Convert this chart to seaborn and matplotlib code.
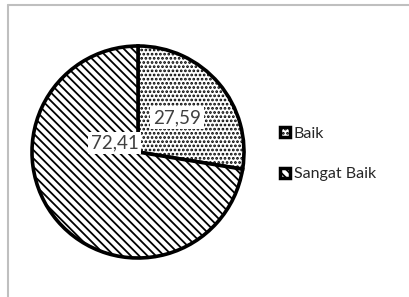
import matplotlib
matplotlib.use("Agg")
import matplotlib.pyplot as plt
import seaborn as sns
from matplotlib.lines import Line2D

sns.set_style("white")
plt.rcParams['font.family'] = ['Lato', 'DejaVu Sans']
plt.rcParams['hatch.linewidth'] = 1.3

categories = ["Baik", "Sangat Baik"]
values = [27.59, 72.41]
value_labels = ["27,59", "72,41"]
hatches = ["....", "\\\\\\\\"]
label_pos = [(0.37, 0.32), (-0.22, 0.085)]

W, H = 409, 297
fig = plt.figure(figsize=(W / 100, H / 100), dpi=100)
fig.patch.set_facecolor("white")

# outer frame (left and top edges visible)
fig.add_artist(Line2D([8 / W, 8 / W], [0, 1 - 5 / H], transform=fig.transFigure,
                      color="#bfbfbf", lw=1.5))
fig.add_artist(Line2D([8 / W, 1], [1 - 5 / H, 1 - 5 / H], transform=fig.transFigure,
                      color="#bfbfbf", lw=1.5))

cx, cy, r = 138, 152, 106
pad = 6
ax = fig.add_axes([(cx - r - pad) / W, (H - cy - r - pad) / H,
                   2 * (r + pad) / W, 2 * (r + pad) / H])
lim = (r + pad) / r
wedges, _ = ax.pie(values, startangle=90, counterclock=False, radius=1,
                   colors=["white", "white"],
                   wedgeprops=dict(edgecolor="black", linewidth=2.6))
for w, h in zip(wedges, hatches):
    w.set_hatch(h)
ax.set_xlim(-lim, lim)
ax.set_ylim(-lim, lim)
ax.set_aspect("equal")
ax.axis("off")

for (x, y), t in zip(label_pos, value_labels):
    ax.text(x, y, t, ha="center", va="center", fontsize=13.5, color="#404040",
            bbox=dict(facecolor="white", edgecolor="none", pad=2))

leg = fig.legend(wedges, categories, loc="upper left",
                 bbox_to_anchor=(272 / W, 1 - 119 / H),
                 frameon=False, fontsize=11.5, handlelength=0.6,
                 handleheight=0.6, handletextpad=0.25, labelspacing=1.65,
                 borderpad=0)
for t in leg.get_texts():
    t.set_color("#262626")
for hnd in leg.legend_handles:
    hnd.set_linewidth(2.5)

fig.savefig("out.png", dpi=100, facecolor="white")
